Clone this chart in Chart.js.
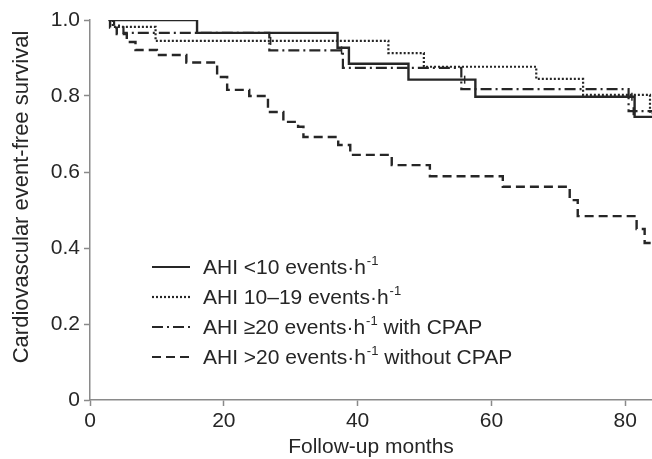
<!DOCTYPE html>
<html>
<head>
<meta charset="utf-8">
<script src="https://cdn.jsdelivr.net/npm/chart.js@4/dist/chart.umd.min.js"></script>
<style>
  html, body { margin: 0; padding: 0; background: #fff; }
</style>
</head>
<body>
<canvas id="km" width="652" height="459"></canvas>
<script>
// Kaplan–Meier curves: each time is where the curve drops to the matching value
const lowTimes   = [2.8, 16, 37, 38.7, 47.6, 57.6, 81.4, 84];
const lowSurv    = [1, 0.966, 0.927, 0.885, 0.843, 0.798, 0.745, 0.745];

const midTimes   = [2.8, 3.4, 9.8, 44.6, 49.9, 66.7, 73.7, 83.7, 84];
const midSurv    = [1, 0.982, 0.945, 0.913, 0.877, 0.845, 0.803, 0.755, 0.755];

const cpapTimes  = [2.8, 3.6, 5, 26.8, 37.8, 55.5, 80.5, 84];
const cpapSurv   = [1, 0.985, 0.966, 0.92, 0.874, 0.818, 0.76, 0.76];

const noCpapTimes = [2.8, 3, 4, 5.5, 6.8, 10, 14.4, 19, 20.5, 23.8, 26.6, 28.9, 31.1, 31.9,
                     37.1, 38.9, 45.1, 50.8, 61.7, 71.7, 72.9, 81.7, 82.9, 84];
const noCpapSurv  = [1, 0.98, 0.963, 0.942, 0.921, 0.908, 0.888, 0.85, 0.816, 0.8, 0.758, 0.732, 0.719, 0.692,
                     0.671, 0.645, 0.618, 0.589, 0.561, 0.526, 0.484, 0.45, 0.413, 0.413];

// censored observations (small vertical marks)
const lowCensor    = [56, 81];
const midCensor    = [27];
const cpapCensor   = [37.6, 81.2];
const noCpapCensor = [];

const groupNames = ['AHI <10 events\u00b7h', 'AHI 10\u201319 events\u00b7h',
                    'AHI \u226520 events\u00b7h', 'AHI >20 events\u00b7h'];
const groupTails = ['', '', ' with CPAP', ' without CPAP'];

const xTicks = [0, 20, 40, 60, 80];
const yTicks = [0, 0.2, 0.4, 0.6, 0.8, 1.0];
const yTitle = 'Cardiovascular event-free survival';

const FONT = "'Liberation Sans', Arial, sans-serif";
const INK = '#262626';
const AXIS = '#8a8a8a';

const zip = (t, s) => t.map((x, i) => ({ x, y: s[i] }));
function survAt(t, s, at) {
  let v = s[0];
  t.forEach((x, i) => { if (x <= at) v = s[i]; });
  return v;
}

const groups = [
  { t: lowTimes,    s: lowSurv,    c: lowCensor,    dash: [],            w: 2.4 },
  { t: midTimes,    s: midSurv,    c: midCensor,    dash: [2, 2],        w: 2.2 },
  { t: cpapTimes,   s: cpapSurv,   c: cpapCensor,   dash: [11, 4, 2, 4], w: 2.2 },
  { t: noCpapTimes, s: noCpapSurv, c: noCpapCensor, dash: [9, 5],        w: 2.4 },
];

const datasets = [];
groups.forEach((g, i) => {
  datasets.push({
    label: groupNames[i] + '-1' + groupTails[i],
    data: zip(g.t, g.s),
    stepped: 'before',
    borderColor: INK,
    borderWidth: g.w,
    borderDash: g.dash,
    pointRadius: 0,
    fill: false,
    legendIndex: i,
  });
});
groups.forEach(g => {
  if (!g.c.length) return;
  datasets.push({
    type: 'scatter',
    data: g.c.map(x => ({ x, y: survAt(g.t, g.s, x) })),
    pointStyle: 'line',
    rotation: 90,
    pointRadius: 4,
    borderColor: INK,
    borderWidth: 1.5,
    showLine: false,
  });
});

/* ── legend inside the plot + rotated y title ── */
const extras = {
  id: 'extras',
  afterDraw(chart) {
    const ctx = chart.ctx;
    const x0 = 152, x1 = 190, tx = 203;
    const rows = [267, 297, 327, 357];
    ctx.save();
    chart.data.datasets.forEach(ds => {
      if (ds.legendIndex === undefined) return;
      const i = ds.legendIndex;
      const y = rows[i];
      ctx.strokeStyle = INK;
      ctx.lineWidth = 2.2;
      ctx.setLineDash(ds.borderDash);
      ctx.beginPath();
      ctx.moveTo(x0, y);
      ctx.lineTo(x1, y);
      ctx.stroke();
      ctx.setLineDash([]);

      ctx.fillStyle = INK;
      ctx.textBaseline = 'middle';
      ctx.textAlign = 'left';
      ctx.font = '21px ' + FONT;
      const main = groupNames[i];
      ctx.fillText(main, tx, y + 1);
      let w = ctx.measureText(main).width;
      ctx.font = '13px ' + FONT;
      ctx.fillText('-1', tx + w + 1, y - 6);
      w += ctx.measureText('-1').width + 1;
      ctx.font = '21px ' + FONT;
      ctx.fillText(groupTails[i], tx + w, y + 1);
    });

    ctx.translate(22, 197);
    ctx.rotate(-Math.PI / 2);
    ctx.font = '22px ' + FONT;
    ctx.textAlign = 'center';
    ctx.textBaseline = 'middle';
    ctx.fillStyle = INK;
    ctx.fillText(yTitle, 0, 0);
    ctx.restore();
  },
};

new Chart(document.getElementById('km'), {
  type: 'line',
  data: { datasets },
  options: {
    responsive: false,
    animation: false,
    devicePixelRatio: 1,
    layout: { autoPadding: false, padding: { top: 20, right: 0, left: 0, bottom: 0 } },
    plugins: { legend: { display: false }, tooltip: { enabled: false } },
    scales: {
      x: {
        type: 'linear',
        min: 0,
        max: 84,
        afterFit: s => { s.height = 59; s.paddingLeft = 0; s.paddingRight = 0; },
        afterBuildTicks: s => { s.ticks = xTicks.map(v => ({ value: v })); },
        ticks: { color: INK, font: { family: FONT, size: 21 }, padding: 3, maxRotation: 0 },
        grid: { drawOnChartArea: false, color: AXIS, tickLength: 6, tickWidth: 1.5 },
        border: { color: AXIS, width: 1.5 },
        title: {
          display: true,
          text: 'Follow-up months',
          color: INK,
          font: { family: FONT, size: 21 },
          padding: { top: 0, bottom: -1 },
        },
      },
      y: {
        min: 0,
        max: 1,
        afterFit: s => { s.width = 90; s.paddingTop = 0; s.paddingBottom = 0; },
        afterBuildTicks: s => { s.ticks = yTicks.map(v => ({ value: v })); },
        ticks: {
          color: INK,
          font: { family: FONT, size: 21 },
          padding: 4,
          callback: v => (v === 0 ? '0' : v.toFixed(1)),
        },
        grid: { drawOnChartArea: false, color: AXIS, tickLength: 6, tickWidth: 1.5 },
        border: { color: AXIS, width: 1.5 },
      },
    },
  },
  plugins: [extras],
});
</script>
</body>
</html>
